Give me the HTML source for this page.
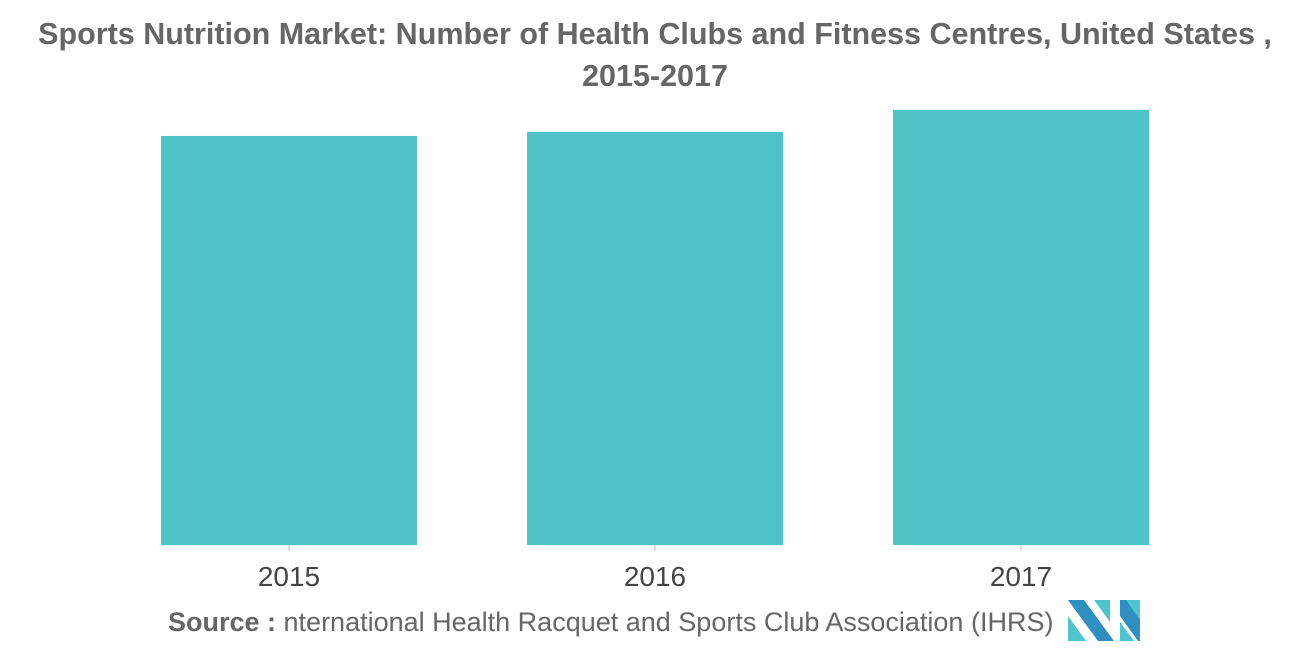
<!DOCTYPE html>
<html><head><meta charset="utf-8"><style>
body{margin:0;width:1310px;height:655px;background:#fff;overflow:hidden;font-family:"Liberation Sans",sans-serif}
#title{position:absolute;left:0;top:13px;width:1310px;text-align:center;font-size:30.5px;font-weight:bold;color:#666;line-height:42px}
#src{position:absolute;left:168px;top:607px;font-size:27px;color:#666}
</style></head><body>
<div id="title">Sports Nutrition Market: Number of Health Clubs and Fitness Centres, United States ,<br>2015-2017</div>
<svg id="chart" width="1310" height="655" style="position:absolute;left:0;top:0"></svg>
<div id="src"><b>Source :</b> nternational Health Racquet and Sports Club Association (IHRS)</div>
<svg width="80" height="50" style="position:absolute;left:1066px;top:598px">
<polygon points="2,2 18,2 48,43 32,43" fill="#2e8fc0"/>
<polygon points="2,18 20,43 2,43" fill="#4ec4cc"/>
<polygon points="28,2 44,2 44,24" fill="#4ec4cc"/>
<polygon points="54,2 74,2 74,43 72,43 54,18" fill="#2e8fc0"/>
<polygon points="54,24 68,43 54,43" fill="#4ec4cc"/>
<polygon points="60,2 74,2 74,22" fill="#4ec4cc"/>
</svg>
<script>
const categories=["2015","2016","2017"];
const values=[36180,36540,38477];
const svg=document.getElementById('chart');
const NS='http://www.w3.org/2000/svg';
const base=545,plotH=435,maxV=38477;
const y=v=>base-v/maxV*plotH;
const xc=i=>289+i*366;
const bw=256;
categories.forEach((c,i)=>{
 const r=document.createElementNS(NS,'rect');
 r.setAttribute('x',xc(i)-bw/2);r.setAttribute('y',y(values[i]));
 r.setAttribute('width',bw);r.setAttribute('height',base-y(values[i]));
 r.setAttribute('fill','#50c3c9');
 
 
 svg.appendChild(r);
 const t=document.createElementNS(NS,'line');
 t.setAttribute('x1',xc(i));t.setAttribute('x2',xc(i));t.setAttribute('y1',base);t.setAttribute('y2',551);
 t.setAttribute('stroke','#bbb');
 
 
 svg.appendChild(t);
 const l=document.createElementNS(NS,'text');
 l.setAttribute('x',xc(i));l.setAttribute('y',586);l.setAttribute('text-anchor','middle');
 l.setAttribute('font-size','28');l.setAttribute('fill','#444');
 l.setAttribute('font-family','Liberation Sans, sans-serif');
 l.textContent=c;
 
 
 svg.appendChild(l);
});
</script>
</body></html>
